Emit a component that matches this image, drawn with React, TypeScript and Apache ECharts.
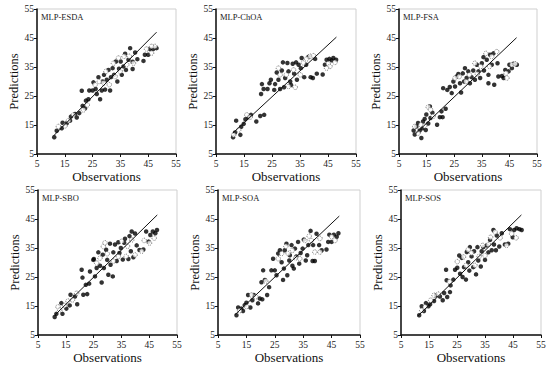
import React, { useEffect, useRef } from "react";
import * as echarts from "echarts";

const panelNames = ["MLP-ESDA", "MLP-ChOA", "MLP-FSA", "MLP-SBO", "MLP-SOA", "MLP-SOS"];
const axisTicks = [5, 15, 25, 35, 45, 55];

const esdaBlack = [[11.2,10.8],[12.1,13.0],[13.9,13.9],[14.2,15.8],[15.7,15.6],[16.9,16.5],[17.2,17.9],[18.7,18.8],[19.3,17.6],[20.2,19.1],[21.1,26.8],[21.4,21.6],[22.3,20.8],[22.6,23.4],[23.5,23.9],[23.8,26.9],[25.0,26.9],[25.3,29.7],[26.1,27.4],[26.5,25.7],[27.1,31.5],[27.7,23.9],[28.3,26.9],[28.6,30.0],[29.1,32.3],[29.5,27.2],[30.1,30.6],[30.7,34.0],[31.3,26.9],[31.6,31.5],[32.2,34.6],[32.7,32.3],[33.4,36.9],[33.9,30.0],[34.5,34.4],[35.1,36.9],[35.5,32.3],[36.1,35.2],[36.7,39.6],[37.0,34.0],[37.9,37.5],[38.5,41.5],[39.4,36.8],[39.4,34.3],[40.3,40.0],[41.1,37.7],[43.3,37.1],[43.8,39.2],[45.0,39.2],[45.6,41.2],[46.8,41.2],[48.0,41.5]];
const esdaOpen = [[12.7,14.5],[15.1,14.7],[16.3,16.5],[18.1,18.5],[21.7,20.2],[23.1,21.9],[25.9,28.9],[27.4,30.0],[28.9,29.5],[29.8,33.5],[31.0,28.9],[32.5,36.3],[33.1,31.7],[34.3,38.1],[34.9,33.5],[36.3,38.7],[37.3,35.8],[38.2,38.7],[39.7,36.3],[44.4,41.2],[46.2,39.8],[47.4,42.1],[46.2,42.1]];
const esdaFit = [[11, 11.3], [48, 47]];

const choaBlack = [[11.1,10.8],[11.8,12.4],[12.2,16.5],[13.7,11.6],[14.0,14.4],[14.9,15.4],[15.5,17.0],[16.6,17.7],[17.5,18.5],[19.4,16.2],[20.8,18.1],[21.1,25.7],[21.4,29.1],[22.0,27.4],[22.2,18.5],[23.4,27.4],[24.1,29.4],[24.6,30.6],[25.8,27.1],[26.1,29.1],[26.7,33.1],[27.3,30.6],[27.9,27.4],[28.5,33.8],[28.9,36.6],[29.3,28.0],[29.7,31.2],[30.5,36.4],[30.9,33.5],[31.5,30.0],[31.8,28.8],[32.4,36.1],[32.9,32.7],[33.6,36.6],[33.9,30.6],[34.5,35.8],[35.3,34.6],[35.6,38.1],[36.5,31.5],[37.2,35.8],[38.0,38.5],[38.8,31.5],[39.6,31.2],[40.4,37.8],[41.0,32.7],[43.1,32.4],[43.9,35.8],[44.5,37.5],[45.5,37.8],[46.3,37.3],[46.9,38.1],[47.9,37.5]];
const choaOpen = [[11.3,11.6],[13.1,13.3],[16.0,18.5],[17.2,17.7],[27.3,34.6],[27.9,32.3],[30.1,32.3],[30.9,28.3],[32.7,34.0],[33.3,28.0],[35.1,32.3],[36.2,36.4],[37.4,37.8],[38.6,38.7],[39.8,38.9],[45.1,36.1],[45.7,35.2],[47.5,36.6],[44.5,34.6]];
const choaFit = [[11, 12.2], [48, 45.3]];

const fsaBlack = [[10.3,13.1],[10.7,11.7],[11.3,14.5],[11.9,15.7],[12.5,13.1],[13.1,10.5],[13.5,13.9],[13.7,16.2],[14.3,17.1],[14.7,13.3],[14.9,18.6],[15.6,15.5],[16.2,21.4],[16.4,17.4],[17.1,19.2],[18.8,15.1],[19.8,17.7],[20.4,19.7],[20.8,17.7],[21.0,27.7],[21.9,20.6],[22.5,27.1],[23.4,28.1],[24.1,26.0],[24.7,30.0],[25.3,28.3],[25.9,31.7],[26.5,32.6],[27.1,29.4],[27.5,26.2],[28.1,32.8],[28.6,30.0],[28.9,34.6],[29.5,31.2],[30.1,33.5],[30.7,29.4],[31.3,31.5],[31.9,33.8],[32.5,30.6],[33.2,35.8],[33.8,33.5],[34.4,31.2],[35.0,36.3],[35.6,38.4],[35.8,33.8],[36.8,37.5],[37.4,32.3],[38.0,39.2],[38.6,35.8],[39.2,39.7],[39.5,28.9],[40.7,36.3],[41.0,31.7],[42.3,31.9],[42.9,31.2],[43.5,34.0],[44.7,33.5],[45.0,35.8],[45.9,34.6],[46.5,36.1],[47.7,35.8],[37.4,29.4]];
const fsaOpen = [[10.7,14.5],[11.9,12.2],[12.9,15.1],[14.3,14.7],[15.6,21.2],[16.4,20.3],[17.4,18.0],[25.3,31.2],[26.8,31.7],[29.3,30.0],[30.5,32.3],[32.5,36.3],[33.4,32.6],[34.6,35.2],[36.5,39.7],[37.8,35.2],[38.6,38.6],[40.4,40.3],[43.8,32.9],[45.9,35.8],[47.1,36.1],[44.1,31.2]];
const fsaFit = [[11, 12], [47.6, 45.1]];

const sboBlack = [[11.0,11.2],[11.6,12.3],[13.4,16.0],[13.8,12.3],[15.2,14.1],[16.4,15.2],[16.7,18.9],[18.3,18.3],[19.1,15.6],[20.7,27.5],[21.0,24.8],[21.3,18.9],[22.2,22.3],[22.7,19.1],[23.4,22.7],[23.7,26.9],[24.9,30.9],[25.1,31.2],[25.5,25.2],[26.1,28.1],[26.7,33.5],[27.3,28.9],[27.9,23.1],[28.3,32.7],[28.7,28.1],[29.5,34.4],[29.9,30.9],[30.3,25.8],[30.9,36.5],[31.1,29.2],[31.9,25.2],[32.1,33.5],[32.7,36.2],[33.3,30.5],[33.9,37.0],[34.3,33.3],[34.8,35.0],[35.5,31.0],[36.0,36.8],[36.3,38.2],[37.5,31.2],[37.9,39.1],[38.4,33.9],[38.7,40.7],[39.3,31.8],[39.9,40.0],[40.5,35.9],[41.5,34.3],[42.9,34.5],[43.9,40.7],[44.8,37.2],[45.4,39.5],[46.3,40.7],[47.2,40.1],[47.8,41.2]];
const sboOpen = [[12.2,14.7],[12.8,13.6],[14.6,15.2],[15.8,16.7],[17.4,17.1],[18.9,19.4],[26.1,29.8],[27.3,31.5],[28.5,35.5],[29.1,36.8],[29.9,33.0],[32.1,30.5],[33.9,32.1],[35.1,37.3],[36.7,32.1],[37.2,35.6],[38.7,37.8],[39.9,32.6],[43.2,37.6],[45.1,36.7],[46.8,38.4],[42.3,33.9]];
const sboFit = [[11, 11.8], [47.9, 46.4]];

const soaBlack = [[11.5,11.8],[12.1,14.5],[13.2,14.1],[13.8,13.3],[14.4,15.3],[15.0,16.1],[15.6,18.8],[16.4,14.5],[17.1,17.0],[17.6,18.8],[19.1,15.9],[19.7,17.6],[20.3,23.2],[20.6,17.3],[20.9,27.3],[21.5,24.0],[22.3,18.8],[23.0,21.5],[23.8,27.3],[24.4,31.3],[25.0,27.3],[25.6,25.6],[26.2,33.1],[26.8,34.2],[27.4,30.1],[27.9,24.0],[28.2,27.9],[28.5,34.2],[29.1,36.5],[29.4,25.6],[30.1,30.7],[30.3,32.5],[30.9,36.0],[31.2,28.9],[31.7,27.9],[32.1,34.8],[32.6,32.1],[33.2,37.1],[33.6,29.6],[34.1,33.3],[34.8,34.8],[35.2,37.9],[35.9,30.7],[36.4,32.5],[36.8,36.0],[37.6,40.9],[38.3,30.5],[38.5,36.0],[39.1,30.5],[39.7,39.9],[40.6,36.0],[41.5,34.2],[43.2,34.5],[43.8,37.1],[44.2,39.6],[45.0,37.1],[45.8,39.6],[46.8,38.9],[47.4,40.1]];
const soaOpen = [[12.6,13.4],[15.0,14.8],[16.8,18.8],[18.3,18.2],[21.8,23.6],[26.2,31.3],[27.4,33.1],[28.9,35.6],[29.7,33.1],[31.2,34.2],[32.4,31.6],[33.8,31.3],[35.6,37.6],[37.1,39.1],[37.9,37.6],[39.1,33.6],[40.9,38.3],[45.0,38.9],[46.2,37.6],[40.9,33.6]];
const soaFit = [[11, 12], [47.7, 46]];

const sosBlack = [[11.5,11.8],[12.4,14.9],[13.2,13.3],[13.9,16.0],[14.8,14.9],[15.4,15.6],[16.8,16.7],[17.5,18.7],[18.9,18.3],[19.9,17.0],[20.4,19.5],[21.1,27.5],[21.3,23.9],[21.5,18.1],[22.5,19.8],[22.7,22.1],[23.7,24.1],[24.3,27.5],[25.1,28.2],[25.8,32.4],[26.1,26.1],[26.7,31.6],[27.0,25.0],[27.5,28.4],[28.2,24.1],[28.5,33.6],[29.0,30.1],[29.4,27.2],[29.6,35.3],[30.2,32.1],[30.8,28.4],[31.1,33.9],[31.8,25.9],[32.3,35.3],[32.6,30.7],[33.5,28.6],[33.8,33.9],[34.4,35.3],[35.0,30.9],[35.6,35.9],[36.2,33.5],[36.8,37.8],[37.4,34.2],[38.0,41.2],[38.2,36.2],[38.9,34.2],[39.2,39.3],[40.1,35.5],[41.0,40.1],[42.1,36.2],[43.3,36.5],[43.9,41.5],[44.9,38.7],[45.4,41.2],[46.3,41.8],[47.3,41.5],[48.1,41.2]];
const sosOpen = [[12.4,13.5],[13.6,14.7],[15.6,17.0],[16.8,18.7],[18.3,19.1],[22.3,23.4],[25.1,30.3],[27.3,31.9],[28.2,29.0],[29.0,34.4],[30.2,33.3],[31.4,29.0],[32.9,32.1],[34.2,35.9],[35.0,32.4],[36.2,36.2],[37.0,38.7],[38.6,40.5],[40.4,38.5],[42.7,35.9],[44.5,39.9],[46.1,38.5]];
const sosFit = [[11, 11.5], [48, 46.4]];

const blackSets = [esdaBlack, choaBlack, fsaBlack, sboBlack, soaBlack, sosBlack];
const openSets = [esdaOpen, choaOpen, fsaOpen, sboOpen, soaOpen, sosOpen];
const fitLines = [esdaFit, choaFit, fsaFit, sboFit, soaFit, sosFit];

const gridBoxes = [
  { left: 37, top: 9, width: 139, height: 145 },
  { left: 216, top: 9, width: 140, height: 145 },
  { left: 399, top: 9, width: 138, height: 145 },
  { left: 38, top: 190, width: 139, height: 145 },
  { left: 218, top: 190, width: 142, height: 145 },
  { left: 401, top: 190, width: 140, height: 145 },
];

const FONT = "'Liberation Serif', 'Times New Roman', serif";

export default function App() {
  const ref = useRef<HTMLDivElement>(null);
  useEffect(() => {
    document.body.style.margin = "0";
    const chart = echarts.init(ref.current!, null, { renderer: "svg" });
    const grid: any[] = [];
    const xAxis: any[] = [];
    const yAxis: any[] = [];
    const series: any[] = [];
    const title: any[] = [];
    const axisCommon = (name: string, gap: number, labelMargin: number, nameSize: number) => ({
      min: axisTicks[0],
      max: axisTicks[axisTicks.length - 1],
      interval: 10,
      name,
      nameLocation: "middle",
      nameGap: gap,
      nameTextStyle: { fontFamily: FONT, fontSize: nameSize, color: "#111" },
      axisLine: { show: true, lineStyle: { color: "#111", width: 1.5 } },
      axisTick: { show: true, inside: false, length: 3, lineStyle: { color: "#111" } },
      axisLabel: { fontFamily: FONT, fontSize: 9.5, color: "#222", margin: labelMargin },
      splitLine: { show: false },
    });
    gridBoxes.forEach((g, i) => {
      grid.push({ ...g, show: true, borderColor: "#cfcfcf", borderWidth: 1, backgroundColor: "transparent" });
      xAxis.push({ type: "value", gridIndex: i, ...axisCommon("Observations", 14, 5, 13) });
      yAxis.push({ type: "value", gridIndex: i, ...axisCommon("Predictions", 17, 3, 12.5) });
      title.push({
        text: panelNames[i],
        left: g.left + 4,
        top: g.top + 3,
        textStyle: { fontFamily: FONT, fontSize: 8.5, fontWeight: "normal", color: "#222" },
        padding: 0,
      });
      series.push({
        type: "scatter",
        xAxisIndex: i,
        yAxisIndex: i,
        data: blackSets[i],
        symbol: "circle",
        symbolSize: 4.5,
        itemStyle: { color: "#000" },
      });
      series.push({
        type: "scatter",
        xAxisIndex: i,
        yAxisIndex: i,
        data: openSets[i],
        symbol: "circle",
        symbolSize: 4.5,
        itemStyle: { color: "#fff", borderColor: "#555", borderWidth: 1, borderType: "dotted" },
      });
      series.push({
        type: "line",
        xAxisIndex: i,
        yAxisIndex: i,
        data: fitLines[i],
        symbol: "none",
        lineStyle: { color: "#111", width: 1 },
      });
    });
    chart.setOption({ animation: false, backgroundColor: "#fff", title, grid, xAxis, yAxis, series });
    return () => chart.dispose();
  }, []);
  return <div ref={ref} style={{ position: "absolute", left: 0, top: 0, width: 550, height: 367 }} />;
}
